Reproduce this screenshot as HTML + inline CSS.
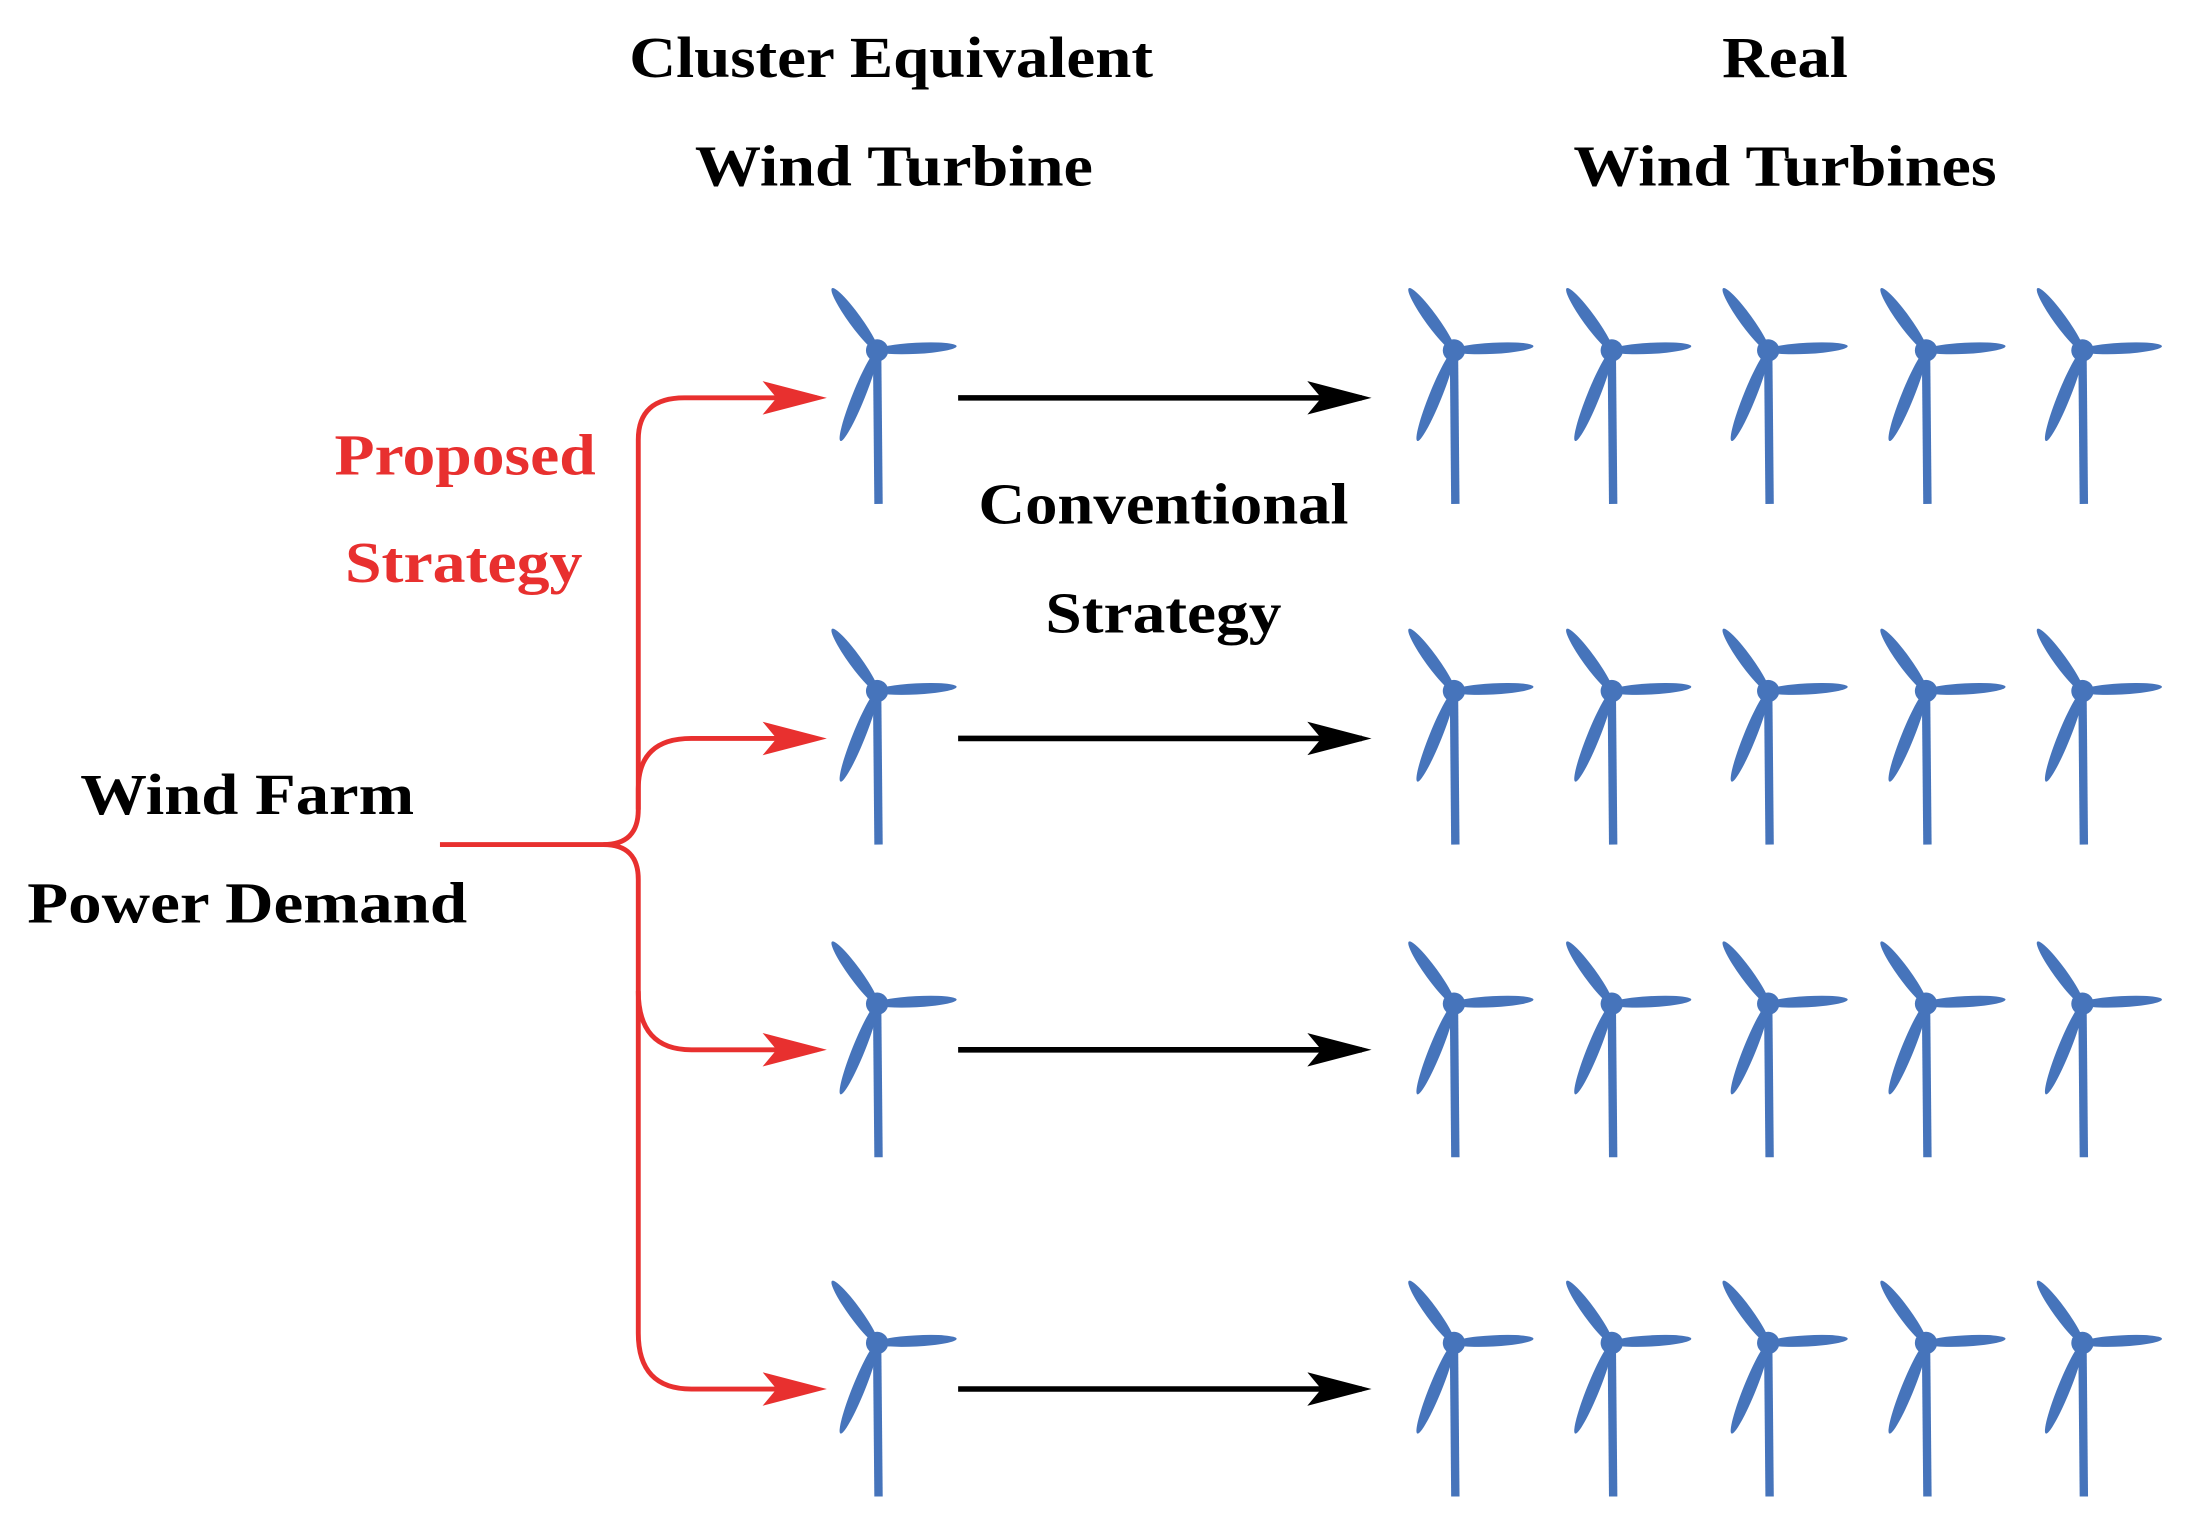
<!DOCTYPE html>
<html><head><style>html,body{margin:0;padding:0;background:#fff}svg{display:block}</style></head>
<body>
<svg width="2190" height="1530" viewBox="0 0 1568 1096" preserveAspectRatio="none" xmlns="http://www.w3.org/2000/svg">
<defs>
<g id="t" fill="#4674bb">
<line x1="0" y1="0" x2="1" y2="110" stroke="#4674bb" stroke-width="6"/>
<ellipse cx="0" cy="0" rx="28" ry="4.5" transform="rotate(-126) translate(27,0)"/>
<ellipse cx="0" cy="0" rx="29" ry="4" transform="rotate(-3) translate(28,0)"/>
<ellipse cx="0" cy="0" rx="35" ry="4.5" transform="rotate(112) translate(35,0)"/>
<circle cx="0" cy="0" r="8"/>
</g>
<marker id="ra" markerUnits="userSpaceOnUse" markerWidth="50" markerHeight="30" refX="39" refY="12" orient="auto"><path d="M0,0 L46,12 L0,24 L10,12 Z" fill="#e8302f"/></marker>
<marker id="ba" markerUnits="userSpaceOnUse" markerWidth="50" markerHeight="30" refX="39" refY="12" orient="auto"><path d="M0,0 L46,12 L0,24 L10,12 Z" fill="#000"/></marker>
</defs>
<g font-family="Liberation Serif, serif" font-weight="bold" font-size="42" text-anchor="middle">
<text x="638" y="55" textLength="375" lengthAdjust="spacingAndGlyphs">Cluster Equivalent</text>
<text x="640" y="133" textLength="285" lengthAdjust="spacingAndGlyphs">Wind Turbine</text>
<text x="1278" y="55" textLength="90" lengthAdjust="spacingAndGlyphs">Real</text>
<text x="1278" y="133" textLength="303" lengthAdjust="spacingAndGlyphs">Wind Turbines</text>
<text x="833" y="375" textLength="265" lengthAdjust="spacingAndGlyphs">Conventional</text>
<text x="833" y="453" textLength="169" lengthAdjust="spacingAndGlyphs">Strategy</text>
<text x="177" y="583" textLength="239" lengthAdjust="spacingAndGlyphs">Wind Farm</text>
<text x="177" y="661" textLength="315" lengthAdjust="spacingAndGlyphs">Power Demand</text>
<text x="333" y="340" fill="#e8302f" textLength="187" lengthAdjust="spacingAndGlyphs">Proposed</text>
<text x="332" y="417" fill="#e8302f" textLength="170" lengthAdjust="spacingAndGlyphs">Strategy</text>
</g>
<g fill="none" stroke="#e8302f" stroke-width="3.5">
<path d="M315,605 L432,605 Q457,605 457,580 L457,315 Q457,285 490,285 L585,285" marker-end="url(#ra)"/>
<path d="M457,580 L457,565 Q457,529 495,529 L585,529" marker-end="url(#ra)"/>
<path d="M432,605 Q457,605 457,630 L457,710 Q457,752 495,752 L585,752" marker-end="url(#ra)"/>
<path d="M457,710 L457,955 Q457,995 495,995 L585,995" marker-end="url(#ra)"/>
</g>
<g stroke="#000" stroke-width="4">
<line x1="686" y1="285" x2="975" y2="285" marker-end="url(#ba)"/>
<line x1="686" y1="529" x2="975" y2="529" marker-end="url(#ba)"/>
<line x1="686" y1="752" x2="975" y2="752" marker-end="url(#ba)"/>
<line x1="686" y1="995" x2="975" y2="995" marker-end="url(#ba)"/>
</g>
<g>
<use href="#t" x="628" y="251"/><use href="#t" x="1041" y="251"/><use href="#t" x="1154" y="251"/><use href="#t" x="1266" y="251"/><use href="#t" x="1379" y="251"/><use href="#t" x="1491" y="251"/>
<use href="#t" x="628" y="495"/><use href="#t" x="1041" y="495"/><use href="#t" x="1154" y="495"/><use href="#t" x="1266" y="495"/><use href="#t" x="1379" y="495"/><use href="#t" x="1491" y="495"/>
<use href="#t" x="628" y="719"/><use href="#t" x="1041" y="719"/><use href="#t" x="1154" y="719"/><use href="#t" x="1266" y="719"/><use href="#t" x="1379" y="719"/><use href="#t" x="1491" y="719"/>
<use href="#t" x="628" y="962"/><use href="#t" x="1041" y="962"/><use href="#t" x="1154" y="962"/><use href="#t" x="1266" y="962"/><use href="#t" x="1379" y="962"/><use href="#t" x="1491" y="962"/>
</g>
</svg>
</body></html>
